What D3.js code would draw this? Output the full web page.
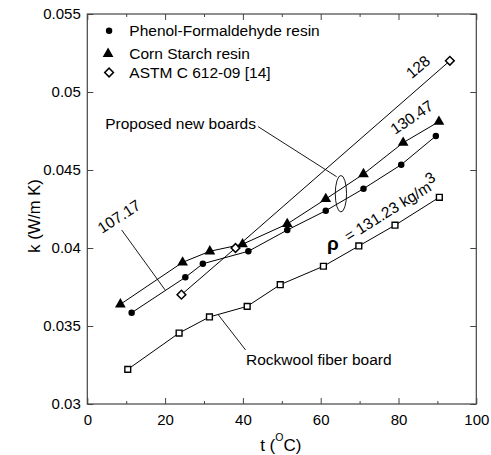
<!DOCTYPE html>
<html>
<head>
<meta charset="utf-8">
<script src="https://cdn.jsdelivr.net/npm/d3@7"></script>
<style>
  html, body { margin: 0; padding: 0; background: #fff; }
  svg { display: block; font-family: "Liberation Sans", Arial, sans-serif; }
</style>
</head>
<body>
<svg id="chart" width="491" height="455"></svg>
<script>
// Thermal conductivity vs. mean temperature for four insulation boards
const tempPF = [11.4, 25.2, 29.7, 41.4, 51.4, 61.3, 71.0, 80.7, 89.6];
const kPF    = [0.03585, 0.03812, 0.03899, 0.03979, 0.04115, 0.04239, 0.0438, 0.04534, 0.04718];

const tempCS = [8.5, 24.5, 31.5, 39.9, 51.4, 61.3, 71.0, 81.2, 90.4];
const kCS    = [0.03639, 0.03908, 0.03979, 0.04024, 0.04154, 0.04314, 0.04474, 0.04675, 0.0481];

const tempASTM = [24.2, 38.1, 93.2];
const kASTM    = [0.03701, 0.0400, 0.0520];

const tempRW = [10.4, 23.6, 31.4, 41.1, 49.6, 60.7, 69.8, 79.1, 90.5];
const kRW    = [0.03222, 0.03455, 0.03558, 0.03626, 0.03765, 0.03883, 0.04013, 0.04146, 0.04325];

const legendNames = ["Phenol-Formaldehyde resin", "Corn Starch resin", "ASTM C 612-09 [14]"];

const xMajor = [0, 20, 40, 60, 80, 100];
const xMinor = [10, 30, 50, 70, 90];
const yMajor = [0.03, 0.035, 0.04, 0.045, 0.05, 0.055];
const yLabels = ["0.03", "0.035", "0.04", "0.045", "0.05", "0.055"];

const svg = d3.select("#chart");
const m = { left: 87.3, right: 476.3, top: 14, bottom: 404 };

const x = d3.scaleLinear().domain([0, 100]).range([m.left, m.right]);
const y = d3.scaleLinear().domain([0.03, 0.055]).range([m.bottom, m.top]);

const ink = "#000";
const frameCol = "#444";

// ---- axes (ticks point inward on all four sides) ----
function styleAxis(g) {
  g.select(".domain").remove();
  g.selectAll(".tick line").attr("stroke", frameCol).attr("stroke-width", 1);
  g.selectAll(".tick text").attr("fill", ink).style("font-size", "15px")
    .style("font-family", '"Liberation Sans", Arial, sans-serif');
}

svg.append("g").attr("transform", `translate(0,${m.bottom})`)
  .call(d3.axisBottom(x).tickValues(xMajor).tickSize(-6).tickPadding(10).tickFormat(d3.format("d")))
  .call(styleAxis);
svg.append("g").attr("transform", `translate(0,${m.bottom})`)
  .call(d3.axisBottom(x).tickValues(xMinor).tickSize(-3).tickFormat(""))
  .call(styleAxis);
svg.append("g").attr("transform", `translate(0,${m.top})`)
  .call(d3.axisTop(x).tickValues(xMajor).tickSize(-6).tickFormat(""))
  .call(styleAxis);
svg.append("g").attr("transform", `translate(0,${m.top})`)
  .call(d3.axisTop(x).tickValues(xMinor).tickSize(-3).tickFormat(""))
  .call(styleAxis);
svg.append("g").attr("transform", `translate(${m.left},0)`)
  .call(d3.axisLeft(y).tickValues(yMajor).tickSize(-6).tickPadding(6.5)
    .tickFormat((d, i) => yLabels[i]))
  .call(styleAxis);
svg.append("g").attr("transform", `translate(${m.right},0)`)
  .call(d3.axisRight(y).tickValues(yMajor).tickSize(-6).tickFormat(""))
  .call(styleAxis);

// frame
svg.append("rect")
  .attr("x", m.left).attr("y", m.top)
  .attr("width", m.right - m.left).attr("height", m.bottom - m.top)
  .attr("fill", "none").attr("stroke", frameCol).attr("stroke-width", 1.2);

// axis titles
const xt = svg.append("text")
  .attr("x", (m.left + m.right) / 2 - 1).attr("y", 451)
  .attr("text-anchor", "middle").attr("fill", ink).style("font-size", "17px");
xt.append("tspan").text("t (");
xt.append("tspan").attr("dy", -10).style("font-size", "10.5px").text("O");
xt.append("tspan").attr("dy", 10).text("C)");

svg.append("text")
  .attr("transform", `translate(39.5,216) rotate(-90)`)
  .attr("text-anchor", "middle").attr("fill", ink).style("font-size", "16.5px")
  .text("k (W/m K)");

// ---- series ----
const line = d3.line().x(d => x(d[0])).y(d => y(d[1]));
const zip = (a, b) => a.map((v, i) => [v, b[i]]);

const series = [
  { pts: zip(tempRW, kRW), shape: "square" },
  { pts: zip(tempASTM, kASTM), shape: "diamond" },
  { pts: zip(tempPF, kPF), shape: "circle" },
  { pts: zip(tempCS, kCS), shape: "triangle" }
];

const plot = svg.append("g");
series.forEach(s => {
  plot.append("path").datum(s.pts).attr("d", line)
    .attr("fill", "none").attr("stroke", ink).attr("stroke-width", 1);
});

const symGen = {
  circle:   d3.symbol().type(d3.symbolCircle).size(33),
  triangle: d3.symbol().type(d3.symbolTriangle).size(50),
  diamond:  d3.symbol().type(d3.symbolSquare).size(38),
  square:   d3.symbol().type(d3.symbolSquare).size(34)
};
function drawMarker(g, shape, px, py) {
  const p = g.append("path").attr("d", symGen[shape]());
  if (shape === "diamond") {
    p.attr("transform", `translate(${px},${py}) rotate(45)`)
      .attr("fill", "#fff").attr("stroke", ink).attr("stroke-width", 1.5);
  } else if (shape === "square") {
    p.attr("transform", `translate(${px},${py})`)
      .attr("fill", "#fff").attr("stroke", ink).attr("stroke-width", 1.4);
  } else {
    p.attr("transform", `translate(${px},${py})`).attr("fill", ink);
  }
}
series.forEach(s => {
  s.pts.forEach(d => drawMarker(plot, s.shape, x(d[0]), y(d[1])));
});

// ---- legend ----
const legendShapes = ["circle", "triangle", "diamond"];
const legT = 5.6, legTextT = 10.8;
const legK = [0.05393, 0.05245, 0.05125];
legendNames.forEach((name, i) => {
  drawMarker(svg, legendShapes[i], x(legT) - (legendShapes[i] === "triangle" ? 1 : 0), y(legK[i]));
  svg.append("text")
    .attr("x", x(legTextT)).attr("y", y(legK[i]) + 5.5)
    .attr("fill", ink).style("font-size", "15.5px").text(name);
});

// ---- annotations ----
const ann = svg.append("g").attr("fill", ink).style("font-size", "15.5px");

function rotLabel(t, k, angle, txt) {
  return ann.append("text")
    .attr("transform", `translate(${x(t)},${y(k)}) rotate(${angle})`)
    .text(txt);
}
rotLabel(83.4, 0.05081, -40.6, "128");
rotLabel(79.1, 0.04724, -34, "130.47");
rotLabel(3.8, 0.0409, -33, "107.17");

const rho = rotLabel(67.2, 0.04038, -32, "= 131.23 kg/m");
rho.append("tspan").attr("dy", -6).text("3");

ann.append("text")
  .attr("x", x(61.6)).attr("y", y(0.03984))
  .style("font-size", "19px").style("font-weight", "bold")
  .text("ρ");

// leader lines
const leaders = [
  [[43.9, 0.04778], [64.1, 0.04457]],
  [[8.85, 0.04115], [20.0, 0.03731]],
  [[33.7, 0.03571], [40.7, 0.03346]]
];
leaders.forEach(l => {
  svg.append("path").attr("d", line(l))
    .attr("fill", "none").attr("stroke", ink).attr("stroke-width", 0.9);
});

// ellipse grouping the two proposed boards
svg.append("ellipse")
  .attr("cx", x(65.2)).attr("cy", y(0.04348))
  .attr("rx", x(65.2 + 1.45) - x(65.2))
  .attr("ry", y(0.04348) - y(0.04348 + 0.00117))
  .attr("fill", "none").attr("stroke", ink).attr("stroke-width", 0.9);

ann.append("text").attr("x", x(4.6)).attr("y", y(0.0476)).text("Proposed new boards");
ann.append("text").attr("x", x(40.8)).attr("y", y(0.0325)).text("Rockwool fiber board");
</script>
</body>
</html>
